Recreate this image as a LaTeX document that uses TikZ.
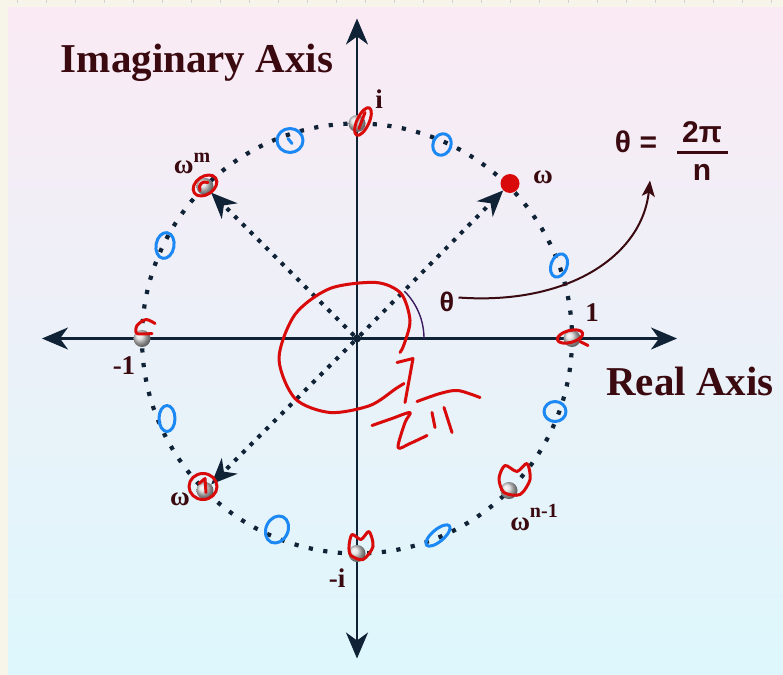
\documentclass[tikz,border=0pt]{standalone}
\usepackage{fontspec}
\setmainfont{Liberation Serif}
\setsansfont{Liberation Sans}
\usetikzlibrary{arrows.meta,calc}
\definecolor{axiscol}{HTML}{0F2236}
\definecolor{labcol}{HTML}{3A0A10}
\definecolor{penred}{HTML}{D80A0A}
\definecolor{penblue}{HTML}{1C88F4}
\definecolor{topbg}{HTML}{FAEAF4}
\definecolor{botbg}{HTML}{DDF7FC}
\definecolor{creambg}{HTML}{F7F4EA}
\definecolor{arccol}{HTML}{3C1B5E}

\begin{document}
\begin{tikzpicture}[x=1pt,y=-1pt,
  axis/.style={draw=axiscol,line width=2.4pt,
    {Stealth[length=26pt,width=22pt,inset=8pt]}-{Stealth[length=26pt,width=22pt,inset=8pt]}},
  dots/.style={draw=axiscol,line width=4.2pt,dash pattern=on 4.2pt off 10.5pt},
  dotarrow/.style={draw=axiscol,line width=4pt,dash pattern=on 4pt off 7pt,
    -{Stealth[length=26pt,width=22pt,inset=8pt]}},
  ball/.style={circle,inner sep=0pt,minimum size=17pt,shading=ball,ball color=gray!30},
  lab/.style={text=labcol,font=\fontsize{27}{27}\selectfont\bfseries,inner sep=0pt},
  biglab/.style={text=labcol,font=\fontsize{41}{41}\selectfont\bfseries,inner sep=0pt},
  eqlab/.style={text=labcol,font=\fontsize{30}{30}\selectfont\sffamily\bfseries,inner sep=0pt},
  redpen/.style={draw=penred,line width=3pt,line cap=round,line join=round},
  bluepen/.style={draw=penblue,line width=3pt,line cap=round,line join=round}]

% background panel
\fill[creambg] (0,0) rectangle (783,674);
\shade[top color=topbg,bottom color=botbg] (8,7) rectangle (783,674);
\foreach \tx in {17,46,...,783}
  \draw[gray!35,line width=1pt] (\tx,0) -- (\tx,3);
\useasboundingbox (0,0) rectangle (783,674);

% axes
\coordinate (xl) at (42,338);
\coordinate (xr) at (677,338);
\coordinate (yt) at (357,18);
\coordinate (yb) at (357,658);
\draw[axis] (xl) -- (xr);
\draw[axis] (yt) -- (yb);

% unit circle and roots
\node[circle,fill=axiscol,inner sep=0pt,minimum size=8pt] (O) at (357,338) {};
\draw[dots] (O.center) circle[radius=215];
\foreach \k in {0,2,3,4,5,6,7}
  \node[ball] (p\k) at ($(357,338)+(-\k*45:215)$) {};
\node[circle,fill=penred,inner sep=0pt,minimum size=19pt] (p1) at (510,183) {};

\draw[dotarrow] (O) -- (p1);
\draw[dotarrow] (O) -- (p3);
\draw[dotarrow] (O) -- (p5);

% angle
\draw[arccol,line width=1.4pt] (424,338) arc[start angle=0,end angle=-45,radius=67];
\node[eqlab,font=\fontsize{27}{27}\selectfont\sffamily\bfseries] (th) at (447,301) {θ};

% labels
\node[biglab] (imlab) at (197,62) {Imaginary Axis};
\node[biglab] (relab) at (690,381) {Real Axis};
\node[lab] (li) at (379,99) {i};
\node[lab] (l1) at (592,312) {1};
\node[lab] (lm1) at (124,365) {-1};
\node[lab] (lmi) at (337,578) {-i};
\node[lab] (lw) at (543,177) {ω};
\node[lab] (lwm) at (192,163) {ω\raisebox{0.4em}{\fontsize{20}{20}\selectfont m}};
\node[lab] (lw5) at (180,499) {ω};
\node[lab] (lwn) at (534,517) {ω\raisebox{0.45em}{\fontsize{20}{20}\selectfont n-1}};

% theta formula
\node[eqlab] (theq) at (636,141) {θ =};
\node[eqlab] (num) at (702,132) {2π};
\node[eqlab] (den) at (702,172) {n};
\draw[labcol,line width=2.4pt] (677,152) -- (728,152);
\coordinate (eqtip) at (650,180);
\draw[labcol,line width=2pt,-{Stealth[length=16pt,width=13pt,inset=4pt]}]
  (th.east) ++(4,-4) .. controls +(110,8) and +(-8,75) .. (eqtip);

% red pen marks
\draw[redpen,rotate around={-25:(363,121)}] (363,121) ellipse[x radius=6,y radius=15];
\draw[redpen] (359,128) -- (365,112);
\draw[redpen,rotate around={35:(205,185)}] (205,185) ellipse[x radius=13,y radius=9];
\draw[redpen] (200,190) .. controls (198,184) and (202,180) .. (208,182);
\draw[redpen] plot[smooth] coordinates {(155,323) (146,319) (137,325) (137,333) (152,333)};
\draw[redpen] (203,486) ellipse[x radius=14,y radius=13];
\draw[redpen] (199,483) -- (205,478) -- (206,492);
\draw[redpen] plot[smooth cycle] coordinates {(349,546) (352,534) (361,539) (369,531) (373,546) (363,559) (351,555)};
\draw[redpen] plot[smooth cycle] coordinates {(499,478) (505,465) (517,471) (527,463) (530,479) (520,494) (504,492)};
\draw[redpen,rotate around={15:(570,336)}] (570,336) ellipse[x radius=13,y radius=6];
\draw[redpen] (580,341) -- (588,345);
\draw[redpen] plot[smooth] coordinates {(400,352) (404,344) (410,320) (401,293) (376,282) (330,288) (295,314) (279,358) (295,398) (330,412) (370,405) (396,388) (404,383)};
\draw[redpen] (397,362) -- (413,358) -- (405,402);
\draw[redpen] plot[smooth] coordinates {(372,425) (392,418) (410,412) (405,422) (398,447) (410,443) (427,435)};
\draw[redpen] (432,412) -- (435,427);
\draw[redpen] (444,407) -- (452,432);
\draw[redpen] plot[smooth] coordinates {(417,401) (440,393) (458,390) (480,397)};

% blue pen marks
\draw[bluepen] (290,140) ellipse[x radius=13,y radius=12];
\draw[bluepen] (288,138) -- (292,143);
\draw[bluepen,rotate around={-20:(442,144)}] (442,144) ellipse[x radius=9,y radius=11];
\draw[bluepen,rotate around={-20:(559,265)}] (559,265) ellipse[x radius=8,y radius=12];
\draw[bluepen] (555,411) ellipse[x radius=11,y radius=10];
\draw[bluepen,rotate around={40:(438,535)}] (438,535) ellipse[x radius=15,y radius=6];
\draw[bluepen,rotate around={-25:(277,529)}] (277,529) ellipse[x radius=11,y radius=14];
\draw[bluepen] (167,418) ellipse[x radius=8,y radius=13];
\draw[bluepen,rotate around={-10:(165,245)}] (165,245) ellipse[x radius=9,y radius=13];
\end{tikzpicture}
\end{document}
